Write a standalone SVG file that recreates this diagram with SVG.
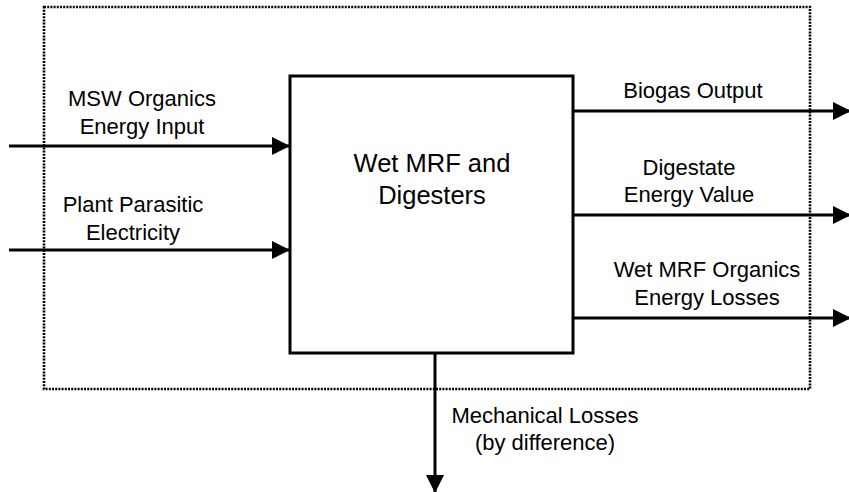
<svg xmlns="http://www.w3.org/2000/svg" width="849" height="492" viewBox="0 0 849 492">
<style>
.lbl{font-family:"Liberation Sans",Arial,sans-serif;font-size:22px;fill:#000;text-anchor:middle}
.big{font-family:"Liberation Sans",Arial,sans-serif;font-size:25.5px;fill:#000;text-anchor:middle}
.ln{stroke:#000;stroke-width:3;fill:none}
</style>
<defs>
<marker id="ah" markerWidth="6" markerHeight="6" refX="6" refY="3" orient="auto" markerUnits="strokeWidth">
<path d="M0,0 L6,3 L0,6 Z" fill="#000"/>
</marker>
</defs>
<rect width="849" height="492" fill="#fff"/>
<rect id="boundary" x="44" y="7" width="766" height="382" fill="none" stroke="#000" stroke-width="2.6" stroke-dasharray="2 1.2"/>
<g id="connectors">
<line class="ln" x1="9" y1="146" x2="290" y2="146" marker-end="url(#ah)"/>
<line class="ln" x1="9" y1="250" x2="290" y2="250" marker-end="url(#ah)"/>
<line class="ln" x1="573" y1="111" x2="851" y2="111" marker-end="url(#ah)"/>
<line class="ln" x1="573" y1="215" x2="851" y2="215" marker-end="url(#ah)"/>
<line class="ln" x1="573" y1="318" x2="851" y2="318" marker-end="url(#ah)"/>
<line class="ln" x1="435" y1="353" x2="435" y2="493" marker-end="url(#ah)"/>
</g>
<g id="digesters">
<rect x="290" y="76" width="283" height="277" fill="none" stroke="#000" stroke-width="3"/>
<text class="big" x="432" y="172">Wet MRF and</text>
<text class="big" x="432" y="204">Digesters</text>
</g>
<g id="msw-input"><text class="lbl" x="142" y="106">MSW Organics</text><text class="lbl" x="142" y="134">Energy Input</text></g>
<g id="parasitic"><text class="lbl" x="133" y="212">Plant Parasitic</text><text class="lbl" x="133" y="240">Electricity</text></g>
<g id="biogas"><text class="lbl" x="693" y="98">Biogas Output</text></g>
<g id="digestate"><text class="lbl" x="689" y="175">Digestate</text><text class="lbl" x="689" y="202">Energy Value</text></g>
<g id="losses"><text class="lbl" x="707" y="277">Wet MRF Organics</text><text class="lbl" x="707" y="305">Energy Losses</text></g>
<g id="mechanical"><text class="lbl" x="545" y="423">Mechanical Losses</text><text class="lbl" x="545" y="450">(by difference)</text></g>
</svg>
